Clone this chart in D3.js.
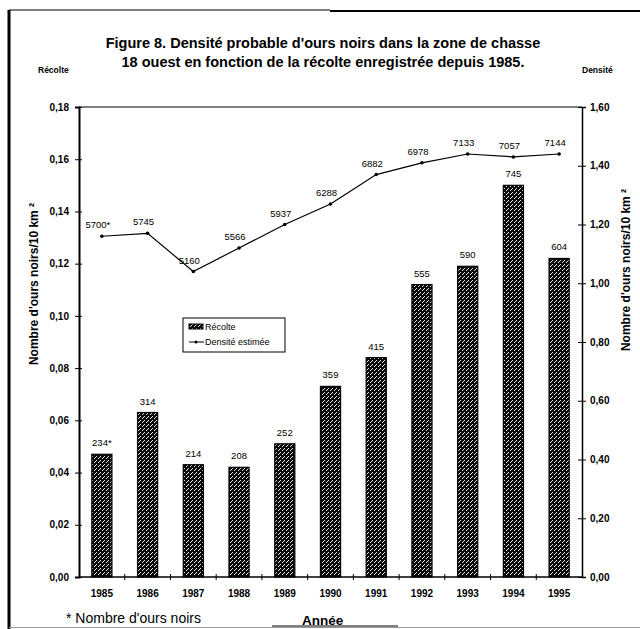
<!DOCTYPE html>
<html><head><meta charset="utf-8">
<script src="https://cdn.jsdelivr.net/npm/d3@7"></script>
<style>body{margin:0;background:#fff}svg{display:block}text{font-family:"Liberation Sans",Arial,sans-serif}</style>
</head><body>
<svg id="c" width="640" height="629"></svg>
<script>
const years = ["1985","1986","1987","1988","1989","1990","1991","1992","1993","1994","1995"];
const recolteHeights = [0.047,0.063,0.043,0.042,0.051,0.073,0.084,0.112,0.119,0.150,0.122];
const recolteLabels = ["234*","314","214","208","252","359","415","555","590","745","604"];
const densite = [1.16,1.17,1.04,1.12,1.20,1.27,1.37,1.41,1.44,1.43,1.44];
const densiteLabels = ["5700*","5745","5160","5566","5937","6288","6882","6978","7133","7057","7144"];
const leftTicks = [0,0.02,0.04,0.06,0.08,0.10,0.12,0.14,0.16,0.18];
const rightTicks = [0,0.2,0.4,0.6,0.8,1.0,1.2,1.4,1.6];

const svg = d3.select("#c");
const L=79, R=582, T=107, B=577;
const x = d3.scaleBand().domain(years).range([L,R]).paddingInner(0.56).paddingOuter(0.28);
const xb = d3.scaleBand().domain(years).range([L,R]);
const yL = d3.scaleLinear().domain([0,0.18]).range([B,T]);
const yR = d3.scaleLinear().domain([0,1.6]).range([B,T]);
const fmt = d => d3.format(".2f")(d).replace(".",",");

// pattern
const defs = svg.append("defs");
const p = defs.append("pattern").attr("id","hatch").attr("patternUnits","userSpaceOnUse").attr("width",4).attr("height",4);
p.append("rect").attr("width",4).attr("height",4).attr("fill","#0a0a0a");
[[0,0],[2,2],[3,1]].forEach(([a,b])=>p.append("rect").attr("x",a).attr("y",b).attr("width",1).attr("height",1).attr("fill","#e8e8e8"));

// frame
svg.append("line").attr("x1",9).attr("x2",9).attr("y1",10).attr("y2",629).attr("stroke","#000").attr("stroke-width",3);
svg.append("line").attr("x1",9).attr("x2",330).attr("y1",10).attr("y2",10).attr("stroke","#000").attr("stroke-width",1);
svg.append("line").attr("x1",330).attr("x2",640).attr("y1",11).attr("y2",11).attr("stroke","#000").attr("stroke-width",2);
svg.append("line").attr("x1",9).attr("x2",640).attr("y1",627.5).attr("y2",627.5).attr("stroke","#999").attr("stroke-width",1);

// title
const title = svg.append("text").attr("text-anchor","middle").attr("font-weight","bold").attr("font-size",14.5);
title.append("tspan").attr("x",323).attr("y",48).text("Figure 8. Densité probable d'ours noirs dans la zone de chasse");
title.append("tspan").attr("x",323).attr("y",67).text("18 ouest en fonction de la récolte enregistrée depuis 1985.");
svg.append("text").attr("x",38).attr("y",73).attr("font-size",8.5).attr("font-weight","bold").text("Récolte");
svg.append("text").attr("x",582).attr("y",73).attr("font-size",8.5).attr("font-weight","bold").text("Densité");

// top border of plot
svg.append("line").attr("x1",L).attr("x2",R).attr("y1",T).attr("y2",T).attr("stroke","#000").attr("stroke-width",1.2);

// bars
svg.selectAll("rect.bar").data(years).enter().append("rect").attr("class","bar")
  .attr("x",d=>x(d)).attr("width",x.bandwidth())
  .attr("y",(d,i)=>yL(recolteHeights[i])).attr("height",(d,i)=>B-yL(recolteHeights[i]))
  .attr("fill","url(#hatch)").attr("stroke","#000").attr("stroke-width",1.2);
svg.selectAll("text.bl").data(years).enter().append("text").attr("class","bl")
  .attr("x",d=>x(d)+x.bandwidth()/2).attr("y",(d,i)=>yL(recolteHeights[i])-8)
  .attr("text-anchor","middle").attr("font-size",9.5).text((d,i)=>recolteLabels[i]);

// left axis
const ga = svg.append("g").attr("transform",`translate(${L},0)`)
  .call(d3.axisLeft(yL).tickValues(leftTicks).tickFormat(fmt).tickSize(4));
ga.select(".domain").attr("stroke-width",2);
ga.selectAll(".tick line").attr("x2",3).attr("x1",-4);
ga.selectAll("text").attr("font-size",10).attr("font-weight","bold").attr("x",-10).attr("font-family","Liberation Sans, Arial");
// right axis
const gr = svg.append("g").attr("transform",`translate(${R},0)`)
  .call(d3.axisRight(yR).tickValues(rightTicks).tickFormat(fmt).tickSize(4));
gr.select(".domain").attr("stroke-width",1.5);
gr.selectAll(".tick line").attr("x1",-4).attr("x2",4);
gr.selectAll("text").attr("font-size",10).attr("font-weight","bold").attr("x",8).attr("font-family","Liberation Sans, Arial");
// bottom axis
svg.append("line").attr("x1",L).attr("x2",R).attr("y1",B).attr("y2",B).attr("stroke","#000").attr("stroke-width",1.5);
svg.selectAll("line.xt").data(years.slice(1)).enter().append("line").attr("class","xt")
  .attr("x1",d=>xb(d)).attr("x2",d=>xb(d)).attr("y1",B-3).attr("y2",B+3).attr("stroke","#000");
svg.selectAll("text.yr").data(years).enter().append("text").attr("class","yr")
  .attr("x",d=>x(d)+x.bandwidth()/2).attr("y",B+20).attr("text-anchor","middle")
  .attr("font-size",10).attr("font-weight","bold").text(d=>d);

// axis titles
svg.append("text").attr("transform","translate(38,284) rotate(-90)").attr("text-anchor","middle")
  .attr("font-size",12).attr("font-weight","bold").text("Nombre d'ours noirs/10 km ²");
svg.append("text").attr("transform","translate(630,270) rotate(-90)").attr("text-anchor","middle")
  .attr("font-size",12).attr("font-weight","bold").text("Nombre d'ours noirs/10 km ²");

// line
const cx = (d)=>x(d)+x.bandwidth()/2;
svg.append("path").datum(years).attr("fill","none").attr("stroke","#000").attr("stroke-width",1.2)
  .attr("d",d3.line().x(d=>cx(d)).y((d,i)=>yR(densite[i])));
svg.selectAll("circle.pt").data(years).enter().append("circle").attr("class","pt")
  .attr("cx",d=>cx(d)).attr("cy",(d,i)=>yR(densite[i])).attr("r",1.8).attr("fill","#000");
svg.selectAll("text.dl").data(years).enter().append("text").attr("class","dl")
  .attr("x",d=>cx(d)-4).attr("y",(d,i)=>yR(densite[i])-8).attr("text-anchor","middle")
  .attr("font-size",9.5).text((d,i)=>densiteLabels[i]);

// legend
svg.append("rect").attr("x",183).attr("y",318).attr("width",102).attr("height",34).attr("fill","#fff").attr("stroke","#000").attr("stroke-width",1);
svg.append("rect").attr("x",189).attr("y",324).attr("width",14).attr("height",5).attr("fill","url(#hatch)").attr("stroke","#000");
svg.append("text").attr("x",205).attr("y",330).attr("font-size",9).text("Récolte");
svg.append("line").attr("x1",189).attr("x2",204).attr("y1",342).attr("y2",342).attr("stroke","#000");
svg.append("circle").attr("cx",196).attr("cy",342).attr("r",1.5).attr("fill","#000");
svg.append("text").attr("x",205).attr("y",345).attr("font-size",9).text("Densité estimée");

// footer
svg.append("text").attr("x",66).attr("y",623).attr("font-size",14).text("* Nombre d'ours noirs");
svg.append("text").attr("x",302).attr("y",625).attr("font-size",13.5).attr("font-weight","bold").text("Année");
svg.append("line").attr("x1",272).attr("x2",398).attr("y1",626).attr("y2",626).attr("stroke","#000").attr("stroke-width",1);
</script>
</body></html>
